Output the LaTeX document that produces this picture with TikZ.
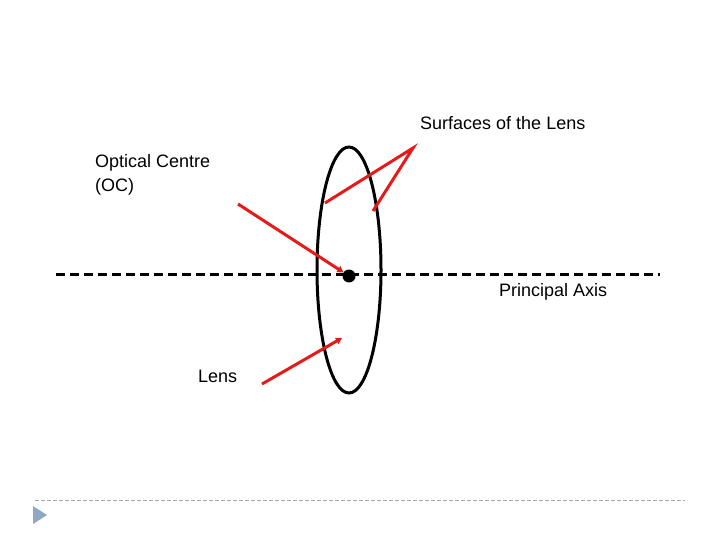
\documentclass[tikz,border=0pt]{standalone}
\usepackage{fontspec}
\setmainfont{Liberation Sans}
\usepackage{xcolor}
\usetikzlibrary{positioning,arrows.meta,calc}
\definecolor{pointer}{HTML}{E31B1B}
\definecolor{slidegrey}{HTML}{A6A6A6}
\definecolor{bullet}{HTML}{8EA9C8}

\begin{document}
\begin{tikzpicture}[x=1pt,y=-1pt,font=\fontsize{18}{24}\selectfont,
  lbl/.style={inner sep=0pt,anchor=base west,align=left},
  ptr/.style={line width=3pt,draw=pointer},
  ptrtip/.style={ptr,-{Triangle[length=6pt,width=7pt]}}]
  \useasboundingbox (0,0) rectangle (720,540);
  % lens and axis
  \draw[line width=3pt] (349,270) ellipse [x radius=32,y radius=123];
  \coordinate (axl) at (56,274);
  \coordinate (axr) at (660,274);
  \draw[line width=3pt,dash pattern=on 9pt off 5pt] (axl) -- (axr);
  \node[circle,fill=black,inner sep=0pt,minimum size=13pt] (oc) at (349,276) {};
  % labels
  \node[lbl] (surf) at (420,130) {Surfaces of the Lens};
  \node[lbl] (optc) at (95,192) {Optical Centre\\(OC)};
  \node[lbl] (axis) at (499,296) {Principal Axis};
  \node[lbl] (lens) at (198,382) {Lens};
  % pointers
  \coordinate (sp) at (413,148);
  \coordinate (s1) at (325,203);
  \coordinate (s2) at (373,211);
  \draw[ptr] (s1) -- (sp) -- (s2);
  \coordinate (op) at (238,204);
  \draw[ptrtip] (op) -- (oc);
  \coordinate (lp) at (262,384);
  \coordinate (le) at (342,338);
  \draw[ptrtip] (lp) -- (le);
  % slide footer
  \coordinate (fl) at (35,500);
  \coordinate (fr) at (685,500);
  \draw[slidegrey,line width=0.8pt,dash pattern=on 4pt off 2pt] (fl) -- (fr);
  \fill[bullet] (33,506) -- (47,515) -- (33,524) -- cycle;
\end{tikzpicture}
\end{document}
